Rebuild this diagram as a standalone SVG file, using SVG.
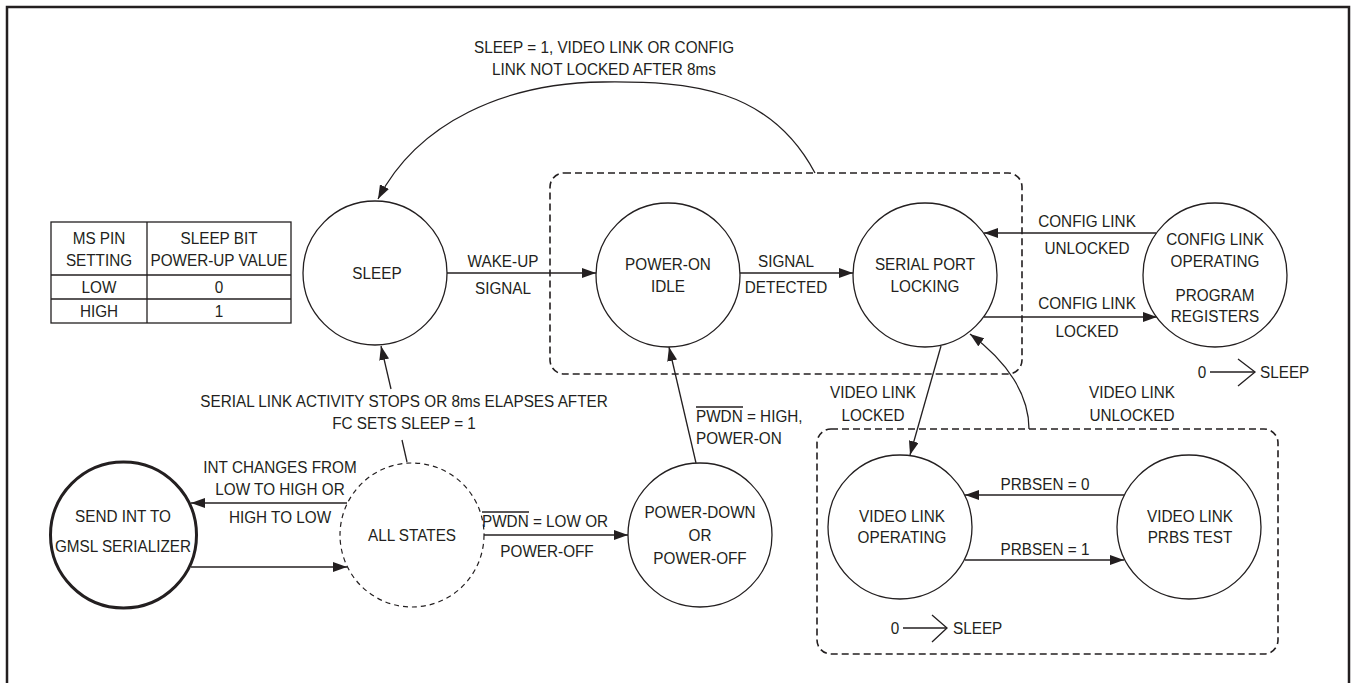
<svg xmlns="http://www.w3.org/2000/svg" width="1353" height="683" viewBox="0 0 1353 683">
<style>
.t{font-family:"Liberation Sans",Arial,Helvetica,sans-serif;font-size:17px;fill:#231f20;text-anchor:middle}
.s{text-anchor:start}
.n{fill:#fff;stroke:#231f20;stroke-width:1.3}
.thick{stroke-width:3}
.dc{fill:#fff;stroke:#231f20;stroke-width:1.2;stroke-dasharray:5 4}
.box{fill:none;stroke:#231f20;stroke-width:1.6;stroke-dasharray:7 4}
.c{fill:none;stroke:#231f20;stroke-width:1.3}
.a{marker-end:url(#ah)}
.tb{fill:none;stroke:#231f20;stroke-width:1.3}
</style>
<defs>
<marker id="ah" viewBox="0 0 14 10" refX="14" refY="5" markerWidth="14" markerHeight="10" orient="auto" markerUnits="userSpaceOnUse"><path d="M0,0 L14,5 L0,10 z" fill="#231f20"/></marker>
</defs>
<rect width="1353" height="683" fill="#fff"/>
<path d="M7,683 V7 H1349 V683" fill="none" stroke="#231f20" stroke-width="2.5"/>

<g id="group-upper">
<rect x="550" y="173" width="472" height="201" rx="14" class="box"/>
</g>
<g id="group-lower">
<rect x="817" y="429" width="461" height="225" rx="14" class="box"/>
</g>

<g id="table">
<rect x="51" y="222" width="240" height="101" class="tb"/>
<line x1="147" y1="222" x2="147" y2="323" class="tb"/>
<line x1="51" y1="275" x2="291" y2="275" class="tb"/>
<line x1="51" y1="299" x2="291" y2="299" class="tb"/>
<text class="t" transform="translate(99,244) scale(0.9,1)">MS PIN</text>
<text class="t" transform="translate(99,266) scale(0.9,1)">SETTING</text>
<text class="t" transform="translate(219,244) scale(0.9,1)">SLEEP BIT</text>
<text class="t" transform="translate(219,266) scale(0.9,1)">POWER-UP VALUE</text>
<text class="t" transform="translate(99,293) scale(0.9,1)">LOW</text>
<text class="t" transform="translate(219,293) scale(0.9,1)">0</text>
<text class="t" transform="translate(99,317) scale(0.9,1)">HIGH</text>
<text class="t" transform="translate(219,317) scale(0.9,1)">1</text>
</g>

<g id="connectors">
<path class="c a" d="M815,173 C770,88 690,81 603,82 C505,83 418,122 378,199"/>
<line class="c a" x1="447" y1="273" x2="596" y2="273"/>
<line class="c a" x1="740" y1="273" x2="853" y2="273"/>
<line class="c a" x1="1156" y1="233" x2="984" y2="233"/>
<line class="c a" x1="984" y1="317" x2="1157" y2="317"/>
<line class="c a" x1="941" y1="346" x2="910" y2="455"/>
<path class="c a" d="M1029,429 C1029,395 1008,362 970,334"/>
<line class="c a" x1="1124" y1="495" x2="965" y2="495"/>
<line class="c a" x1="965" y1="560" x2="1124" y2="560"/>
<line class="c" x1="407" y1="462" x2="402" y2="440"/>
<line class="c a" x1="391" y1="389" x2="381" y2="346"/>
<line class="c a" x1="347" y1="503" x2="191" y2="503"/>
<line class="c a" x1="191" y1="567" x2="347" y2="567"/>
<line class="c a" x1="484" y1="535" x2="628" y2="535"/>
<line class="c a" x1="696" y1="463" x2="669" y2="347"/>
<line class="c" x1="1210" y1="372" x2="1255" y2="372"/>
<polyline class="c" points="1238,359 1255,372 1238,386"/>
<line class="c" x1="903" y1="628" x2="947" y2="628"/>
<polyline class="c" points="932,615 947,628 932,642"/>
</g>

<g id="labels">
<text class="t" transform="translate(604,53) scale(0.9,1)">SLEEP = 1, VIDEO LINK OR CONFIG</text>
<text class="t" transform="translate(604,75) scale(0.9,1)">LINK NOT LOCKED AFTER 8ms</text>
<text class="t" transform="translate(503,267) scale(0.9,1)">WAKE-UP</text>
<text class="t" transform="translate(503,294) scale(0.9,1)">SIGNAL</text>
<text class="t" transform="translate(786,267) scale(0.9,1)">SIGNAL</text>
<text class="t" transform="translate(786,293) scale(0.9,1)">DETECTED</text>
<text class="t" transform="translate(1087,227) scale(0.9,1)">CONFIG LINK</text>
<text class="t" transform="translate(1087,254) scale(0.9,1)">UNLOCKED</text>
<text class="t" transform="translate(1087,309) scale(0.9,1)">CONFIG LINK</text>
<text class="t" transform="translate(1087,337) scale(0.9,1)">LOCKED</text>
<text class="t" transform="translate(1202,378) scale(0.9,1)">0</text>
<text class="t s" transform="translate(1260,378) scale(0.9,1)">SLEEP</text>
<text class="t" transform="translate(873,398) scale(0.9,1)">VIDEO LINK</text>
<text class="t" transform="translate(873,421) scale(0.9,1)">LOCKED</text>
<text class="t" transform="translate(1132,398) scale(0.9,1)">VIDEO LINK</text>
<text class="t" transform="translate(1132,421) scale(0.9,1)">UNLOCKED</text>
<text class="t" transform="translate(1045,490) scale(0.9,1)">PRBSEN = 0</text>
<text class="t" transform="translate(1045,555) scale(0.9,1)">PRBSEN = 1</text>
<text class="t" transform="translate(895,634) scale(0.9,1)">0</text>
<text class="t s" transform="translate(953,634) scale(0.9,1)">SLEEP</text>
<text class="t" transform="translate(404,407) scale(0.9,1)">SERIAL LINK ACTIVITY STOPS OR 8ms ELAPSES AFTER</text>
<text class="t" transform="translate(404,429) scale(0.9,1)">FC SETS SLEEP = 1</text>
<text class="t" transform="translate(280,473) scale(0.9,1)">INT CHANGES FROM</text>
<text class="t" transform="translate(280,495) scale(0.9,1)">LOW TO HIGH OR</text>
<text class="t" transform="translate(280,523) scale(0.9,1)">HIGH TO LOW</text>
<text class="t s" transform="translate(482,527) scale(0.9,1)">PWDN = LOW OR</text>
<line class="c" x1="482" y1="512" x2="529" y2="512"/>
<text class="t" transform="translate(547,557) scale(0.9,1)">POWER-OFF</text>
<text class="t s" transform="translate(696,422) scale(0.9,1)">PWDN = HIGH,</text>
<line class="c" x1="696" y1="407" x2="743" y2="407"/>
<text class="t s" transform="translate(696,444) scale(0.9,1)">POWER-ON</text>
</g>

<g id="node-sleep">
<circle cx="375" cy="273" r="72" class="n"/>
<text class="t" transform="translate(377,279) scale(0.9,1)">SLEEP</text>
</g>
<g id="node-power-on-idle">
<circle cx="668" cy="275" r="72" class="n"/>
<text class="t" transform="translate(668,270) scale(0.9,1)">POWER-ON</text>
<text class="t" transform="translate(668,292) scale(0.9,1)">IDLE</text>
</g>
<g id="node-serial-port-locking">
<circle cx="925" cy="275" r="72" class="n"/>
<text class="t" transform="translate(925,270) scale(0.9,1)">SERIAL PORT</text>
<text class="t" transform="translate(925,292) scale(0.9,1)">LOCKING</text>
</g>
<g id="node-config-link">
<circle cx="1215" cy="275" r="72" class="n"/>
<text class="t" transform="translate(1215,245) scale(0.9,1)">CONFIG LINK</text>
<text class="t" transform="translate(1215,267) scale(0.9,1)">OPERATING</text>
<text class="t" transform="translate(1215,301) scale(0.9,1)">PROGRAM</text>
<text class="t" transform="translate(1215,322) scale(0.9,1)">REGISTERS</text>
</g>
<g id="node-send-int">
<circle cx="123.5" cy="535" r="73" class="n thick"/>
<text class="t" transform="translate(123,522) scale(0.9,1)">SEND INT TO</text>
<text class="t" transform="translate(123,552) scale(0.9,1)">GMSL SERIALIZER</text>
</g>
<g id="node-all-states">
<circle cx="412" cy="535" r="72" class="dc"/>
<text class="t" transform="translate(412,541) scale(0.9,1)">ALL STATES</text>
</g>
<g id="node-power-down">
<circle cx="700" cy="535" r="72" class="n"/>
<text class="t" transform="translate(700,518) scale(0.9,1)">POWER-DOWN</text>
<text class="t" transform="translate(700,541) scale(0.9,1)">OR</text>
<text class="t" transform="translate(700,564) scale(0.9,1)">POWER-OFF</text>
</g>
<g id="node-video-link-operating">
<circle cx="900" cy="527" r="72" class="n"/>
<text class="t" transform="translate(902,522) scale(0.9,1)">VIDEO LINK</text>
<text class="t" transform="translate(902,543) scale(0.9,1)">OPERATING</text>
</g>
<g id="node-video-link-prbs">
<circle cx="1189" cy="527" r="72" class="n"/>
<text class="t" transform="translate(1190,522) scale(0.9,1)">VIDEO LINK</text>
<text class="t" transform="translate(1190,543) scale(0.9,1)">PRBS TEST</text>
</g>
</svg>
